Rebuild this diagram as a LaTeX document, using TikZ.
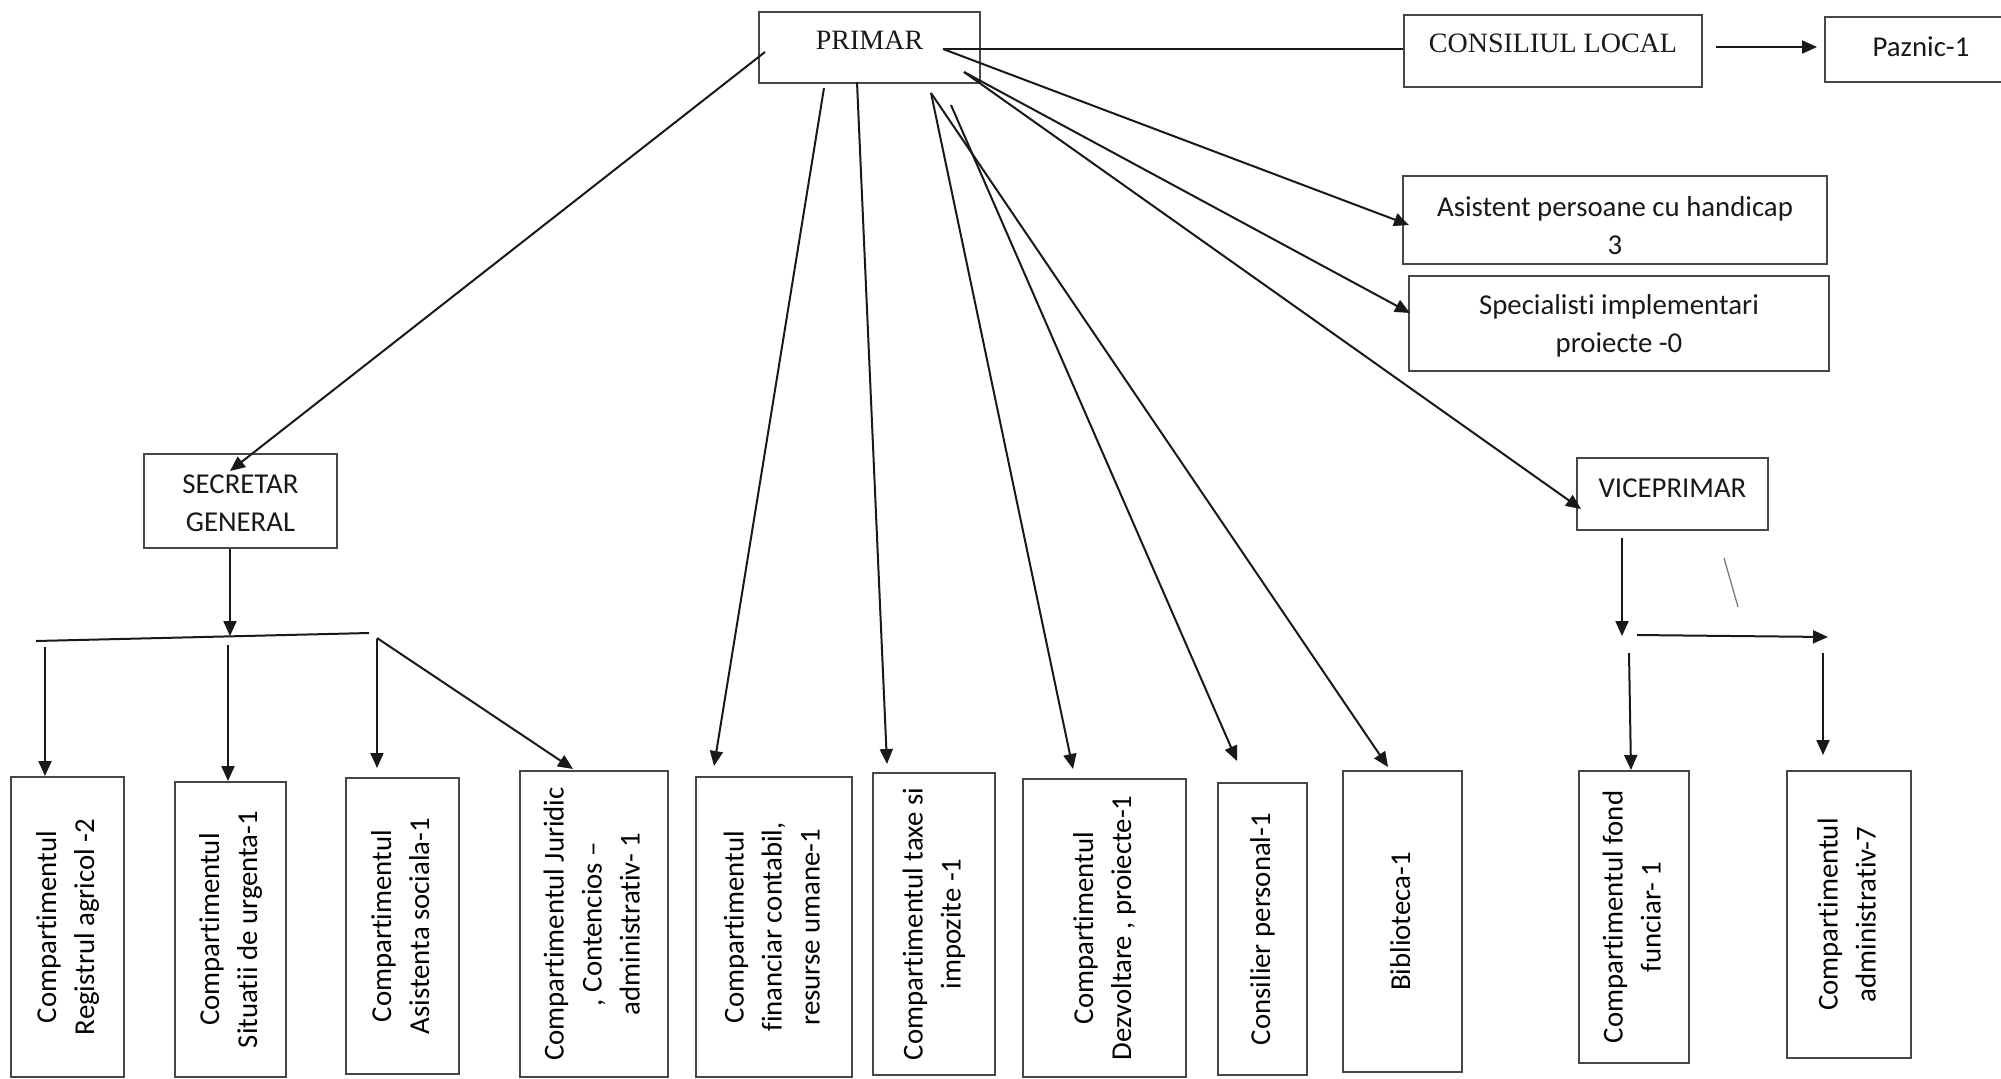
\documentclass[tikz,border=0pt]{standalone}
\usepackage{fontspec}
\setmainfont{Carlito}[Ligatures={NoCommon}]
\newfontfamily\tmsfont{Liberation Serif}
\usetikzlibrary{arrows.meta}
\newcommand\bodyf{\fontsize{14.4pt}{19pt}\selectfont}
\newcommand\vt[1]{\rotatebox{90}{\bodyf\begin{tabular}{@{}c@{}}#1\end{tabular}}}
\tikzset{
  box/.style={draw=black!72, line width=1pt, inner sep=0pt, rectangle},
  ln/.style={line width=1pt, draw=black!90},
  arr/.style={ln, -{Triangle[length=7.5pt,width=6.5pt]}},
  sansT/.style={font=\bodyf, align=center, inner sep=0pt, text=black!90},
  serT/.style={font=\tmsfont\fontsize{14pt}{17pt}\selectfont, inner sep=0pt, text=black!90},
}
\begin{document}
\begin{tikzpicture}[x=0.5pt, y=-0.5pt]
\useasboundingbox (0,0) rectangle (2001,1078);
\fill[white] (0,0) rectangle (2001,1078);

% ---- top boxes ----
\node[box, minimum width=110.5pt, minimum height=35.5pt] (primar) at (869.5,47.5) {};
\node[serT] (primarT) at ([yshift=3.75pt]primar.center) {PRIMAR};

\node[box, minimum width=149pt, minimum height=36pt] (consiliu) at (1553,51) {};
\node[serT] (consiliuT) at ([yshift=4pt]consiliu.center) {CONSILIUL LOCAL};

\node[box, minimum width=96pt, minimum height=32.5pt] (paznic) at (1921,49.5) {};
\node[sansT] (paznicT) at ([yshift=1.25pt]paznic.center) {Paznic-1};

\node[box, minimum width=212pt, minimum height=44pt] (asist) at (1615,220) {};
\node[sansT] (asistT) at ([yshift=-3pt]asist.center) {Asistent persoane cu handicap\\3};

\node[box, minimum width=210pt, minimum height=47.5pt] (spec) at (1619,323.5) {};
\node[sansT] (specT) at ([yshift=-1pt]spec.center) {Specialisti implementari\\proiecte -0};

\node[box, minimum width=96.5pt, minimum height=47pt] (sg) at (240.5,501) {};
\node[sansT] (sgT) at ([yshift=-1.25pt]sg.center) {SECRETAR\\GENERAL};

\node[box, minimum width=95.5pt, minimum height=36pt] (vice) at (1672.5,494) {};
\node[sansT] (viceT) at ([yshift=3pt]vice.center) {VICEPRIMAR};

% ---- bottom boxes ----
\node[box, minimum width=56.5pt, minimum height=150pt] (b1) at (67.5,927) {\vt{Compartimentul\\Registrul agricol -2}};
\node[box, minimum width=55.5pt, minimum height=147.5pt] (b2) at (230.5,929.5) {\vt{Compartimentul\\Situatii de urgenta-1}};
\node[box, minimum width=56.5pt, minimum height=148pt] (b3) at (402.5,926) {\vt{Compartimentul\\Asistenta sociala-1}};
\node[box, minimum width=74pt, minimum height=153pt] (b4) at (594,924) {\vt{Compartimentul Juridic\\, Contencios --\\administrativ- 1}};
\node[box, minimum width=78pt, minimum height=150pt] (b5) at (774,927) {\vt{Compartimentul\\financiar contabil,\\resurse umane-1}};
\node[box, minimum width=61pt, minimum height=151pt] (b6) at (934,924) {\vt{Compartimentul taxe si\\impozite -1}};
\node[box, minimum width=81.5pt, minimum height=149pt] (b7) at (1104.5,928) {\vt{Compartimentul\\Dezvoltare , proiecte-1}};
\node[box, minimum width=44.5pt, minimum height=146pt] (b8) at (1262.5,929) {\vt{Consilier personal-1}};
\node[box, minimum width=59.5pt, minimum height=150.5pt] (b9) at (1402.5,921.5) {\vt{Biblioteca-1}};
\node[box, minimum width=55pt, minimum height=146pt] (b10) at (1634,917) {\vt{Compartimentul fond\\funciar- 1}};
\node[box, minimum width=62pt, minimum height=143.5pt] (b11) at (1849,914.5) {\vt{Compartimentul\\administrativ-7}};

% ---- connectors from PRIMAR ----
\coordinate (pA) at (943,49);
\coordinate (pB) at (964,72);
\coordinate (pSG) at (765,52);
\coordinate (pF) at (824,88);
\coordinate (pT) at (857,82);
\coordinate (pD) at (931,93);
\coordinate (pK) at (951,105);

\draw[ln] (pA) -- (pA -| consiliu.west);
\draw[arr] ([xshift=6.5pt,yshift=2pt]consiliu.east) -- ([xshift=-3.5pt,yshift=1.25pt]paznic.west);
\draw[arr] (pA) -- ([xshift=3.5pt,yshift=-2.5pt]asist.west);
\draw[arr] (pB) -- ([xshift=1pt,yshift=5.25pt]spec.west);
\draw[arr] (pB) -- ([xshift=2.5pt,yshift=-7.5pt]vice.west);
\draw[arr] (pSG) -- ([xshift=-5.25pt,yshift=-9pt]sg.north);
\draw[arr] (pF) -- ([xshift=-30pt,yshift=5pt]b5.north);
\draw[arr] (pT) -- ([xshift=-23.5pt,yshift=4pt]b6.north);
\draw[arr] (pD) -- ([xshift=-15.75pt,yshift=4.5pt]b7.north);
\draw[arr] (pK) -- ([xshift=-12.75pt,yshift=10.5pt]b8.north);
\draw[arr] (pD) -- ([xshift=-7.25pt,yshift=1.5pt]b9.north);

% ---- SECRETAR GENERAL subtree ----
\coordinate (busL) at (36,641);
\coordinate (busR) at (369,633);
\draw[ln] (busL) -- (busR);
\draw[arr] ([xshift=-5.25pt]sg.south) -- ++(0,87);
\coordinate (s1) at (45,647);
\coordinate (s2) at (228,645);
\coordinate (s3) at (377,639);
\coordinate (t3) at (377,768);
\coordinate (s4) at (377,638);
\draw[arr] (s1) -- (s1 |- b1.north);
\draw[arr] (s2) -- (s2 |- b2.north);
\draw[arr] (s3) -- (t3);
\draw[arr] (s4) -- ([xshift=-10.5pt,yshift=0.5pt]b4.north);

% ---- VICEPRIMAR subtree ----
\draw[arr] ([xshift=-25.25pt,yshift=-3.5pt]vice.south) -- ++(0,98);
\coordinate (vh) at (1637,635);
\coordinate (vhe) at (1828,637);
\draw[arr] (vh) -- (vhe);
\coordinate (v1) at (1629,653);
\draw[arr] (v1) -- ([xshift=-1.5pt]b10.north);
\coordinate (v2) at (1823,653);
\coordinate (v2e) at (1823,755);
\draw[arr] (v2) -- (v2e);

% stray stroke
\coordinate (st1) at (1724,558);
\coordinate (st2) at (1738,607);
\draw[line width=0.6pt, black!55] (st1) -- (st2);
\end{tikzpicture}
\end{document}
